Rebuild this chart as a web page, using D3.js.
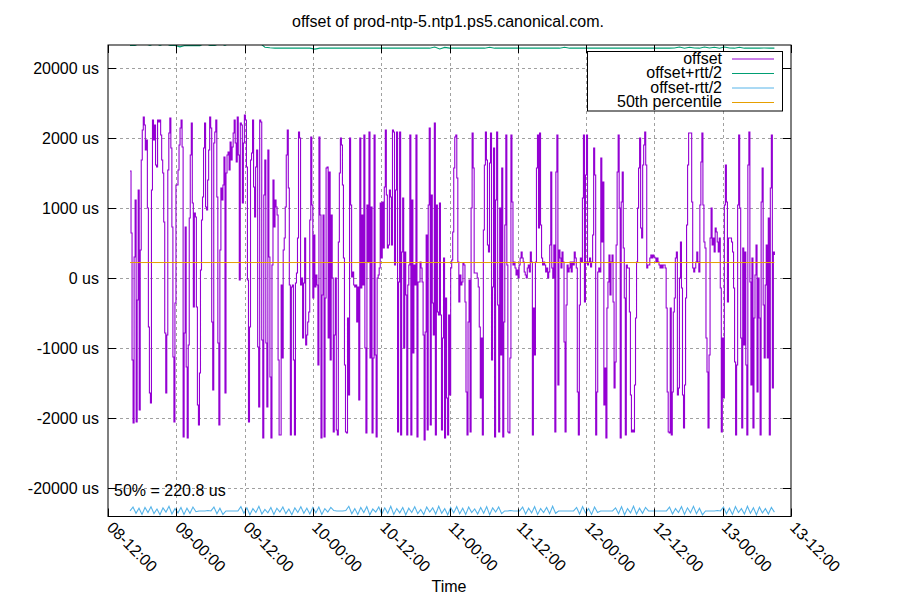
<!DOCTYPE html>
<html><head><meta charset="utf-8">
<script src="https://cdn.jsdelivr.net/npm/d3@7"></script>
<style>body{margin:0;background:#fff}svg{display:block}text{font-family:"Liberation Sans",Arial,sans-serif;fill:#000}</style>
</head><body><svg id="c" width="900" height="600"></svg>
<script>
const title = "offset of prod-ntp-5.ntp1.ps5.canonical.com.";
const xTitle = "Time";
const yTickValues = [-20000, -2000, -1000, 0, 1000, 2000, 20000];
const seriesNames = ["offset", "offset+rtt/2", "offset-rtt/2", "50th percentile"];
const seriesColors = ["#9400d3", "#009e73", "#56b4e9", "#e69f00"];
const percentile50 = 220.8;
const percentileLabel = "50% = 220.8 us";
const axisStart = Date.UTC(2024, 0, 8, 12), axisEnd = Date.UTC(2024, 0, 13, 12);
const dataStart = Date.UTC(2024, 0, 8, 15, 52), dataEnd = Date.UTC(2024, 0, 13, 9, 5);

const offset = [
1529,643,-1171,-3290,300,1114,-3030,-314,1257,-1886,400,1686,
4060,7400,5340,1829,1971,
1000,-700,-1643,-1786,1257,
6630,1971,5340,
1614,1586,6630,6100,
6630,2770,1686,1500,
800,-786,-1643,-814,
1543,3290,7140,1857,729,
-1129,-3030,-357,1329,
1329,1543,1900,4570,6630,
1871,-6890,-786,729,
-1271,-7140,-957,857,
1757,5860,1071,-414,
929,871,-414,-1814,
-3800,-1357,114,829,1157,
1857,5860,1014,971,1400,1829,
7400,4570,-629,-1600,1929,
3540,6630,1157,-929,-3800,
400,1286,1114,1329,1729,
-1643,1500,1757,1800,1543,
1943,1686,1871,3290,6630,1929,
1657,7400,1757,-29,5860,
5340,1071,1929,7910,6630,
1586,-29,-3030,-700,1686,
1786,6630,1300,871,1586,
1829,-986,-1843,6630,6100,-886,
-7140,1186,1686,-929,-1843,
1829,300,-1414,-7140,186,
1400,729,1114,1014,900,
-1171,-6370,-6370,-100,-1143,
400,571,1014,1757,4060,
1286,-100,-6370,-129,
-100,-1171,-6370,-71,
71,571,3540,2000,-100,
0,-857,-71,571,
-957,-814,-629,-486,829,
2260,1043,-286,614,-129,43,
-100,-1243,2260,900,-7140,
-243,900,-6890,-286,1571,
1586,-857,1514,-1171,900,
0,-5600,-814,0,-5090,
-6370,514,1500,2000,1900,
1329,286,-1243,-5600,-5860,
-571,-1671,2000,1043,14,
86,-100,-129,-100,-629,
-129,-1743,2000,-143,900,
-100,2770,-1000,-5860,1043,
229,3540,-1143,1014,-5860,
-1143,2770,-1100,-6890,0,
43,143,1071,286,1086,
429,1300,4060,1186,429,
471,1257,1157,471,4060,
3540,186,1257,3540,-5600,
-57,3540,-6370,371,1143,
-1000,371,-243,-6370,-100,
186,2770,-6370,1114,-1071,
186,-100,2770,-6890,-57,
-57,229,143,-57,-814,
-7660,-771,614,-5090,1043,
4570,-3800,1186,-357,-814,
5860,-6370,1043,-486,-529,
1071,-529,-5090,-857,286,
-7140,-286,-1714,-6370,-529,
-1671,143,257,657,1571,
2260,2770,1429,229,-343,
43,-100,-57,214,186,
-343,-1629,-6370,-629,-29,
-5600,1000,3290,1571,71,
71,71,0,-129,-700,
-1714,-857,-6370,686,1614,
3540,1686,471,371,1643,
3290,-1171,-129,1857,-6890,
1114,3540,-386,-5600,1000,
-1100,1571,-6890,-629,757,
2770,186,-5600,-5860,-1143,
2770,1086,186,229,143,
43,114,0,186,286,
371,286,229,86,43,
0,143,186,86,371,
229,-6370,-429,-1100,229,
1571,2770,714,3290,757,
286,186,229,186,86,
143,0,86,471,1514,
143,0,471,-5600,1514,
2770,-1529,400,286,143,
371,229,-914,-5600,-386,
186,86,143,229,86,
229,186,371,286,143,
-1629,-6370,-386,286,229,
1143,2770,-343,1471,2770,
186,229,286,157,229,
614,1857,1471,-6370,-1629,
86,143,86,1714,514,
1371,-1814,-1286,-7140,-429,
-57,329,-243,229,329,
-343,-1571,-1200,471,1514,
2770,1000,-7140,1086,1514,
429,-286,-6370,186,143,
143,-486,-1671,-5600,-5090,
-5600,-1529,-571,229,1000,
1571,2000,714,571,1614,
1900,3540,1614,143,186,
186,286,329,286,329,
300,286,229,286,229,
186,143,186,143,186,
186,143,-429,-1629,-5600,
-5860,-429,-6370,-1629,-486,
-286,286,371,-1671,-1571,
0,514,-143,-1671,-4570,
-1529,-286,757,1614,3290,
3290,3290,1086,143,86,
143,229,371,229,86,
1043,1657,3290,1043,514,
429,-857,-1343,-4570,-1100,
571,1000,471,571,371,
714,657,514,371,571,
-143,-5600,-857,-1714,1043,
1614,1086,-343,571,571,
571,514,371,-143,-1200,
-6370,-1243,1043,2770,1000,
-857,-4570,429,-957,371,
-1243,-6370,1614,3540,-57,
-1529,286,-4570,-571,43,
471,-1629,0,-571,-6370,
1086,1571,-386,-1143,-100,
471,-1143,857,-6370,1286,
2770,-1571,371,329
];

const offsetPlusRtt = [
25800,25800,26400,26300,25800,26400,25800,26400,25800,25800,
25450,25800,25750,25800,25750,26400,25800,25800,26400,25800,
26500,26600,26400,26500,26600,26500,26400,25350,25200,25100,
25150,25100,25150,25100,25100,25150,25100,24850,25100,
25100,25150,25100,25100,25150,25100,25100,25150,25100,25100,25150,25100,25100,25100,25150,25100,25100,25150,25100,25100,25150,25100,
25400,24900,25300,
25100,25150,25100,25100,25150,25100,25100,25100,
25350,
25100,25100,25150,25100,25100,25150,25100,25100,25100,25150,25100,25100,25150,25100,
25350,
25100,25150,25100,25100,25150,25100,25100,25100,25150,25100,25100,25150,25100,25100,25100,25150,25100,25100,25150,25100,25100,25150,
25400,25100,25350,25150,25100,25400,25150,25350,25100,25400,25150,25100,25350,
25100,25150,25100,25100,25150,25100,25100
];

const offsetMinusRtt = [
-25900,-24900,-26500,-25200,-26800,-25000,-26300,-24800,-26600,-25400,-26900,-25100,-26200,-24700,-26700,-25300,-26400,-25000,-26800,-25200,-26500,-24900,-26100,
-25900,-25900,-25900,-25800,-25900,
-24900,-26600,-25200,-26800,
-25900,-25900,-25900,-25900,-25900,
-24800,-26500,-25100,-26900,-25300,-26300,-24700,-26700,-25500,-26400,-25000,-26800,-25200,-26200,-24900,-26600,-25400,-26900,-25100,-26300,-24800,-26500,-25200,-26700,-25000,-26400,-24900,-26800,-25300,-26200,-25000,
-25800,-25900,-25900,-25900,-25800,
-24700,-26600,-25300,-26800,-25000,-26300,-24800,-26900,-25400,-26200,-24900,-26700,-25100,-26500,-24700,-26800,-25300,-26400,-25000,-26900,-25200,-26300,-24800,-26600,-25500,-26800,-24900,-26200,-25100,-26700,-24700,-26500,-25300,-26900,-25000,-26400,-24800,-26600,-25200,-26800,-24900,-26300,-25400,-26700,-25000,-26500,-24800,-26900,-25100,-26200,-24900,-26600,
-25900,-25900,-25800,-25900,-25900,-25900,
-24900,-26700,-25200,-26400,-24800,-26800,-25300,-26300,-25000,-26600,-24700,-26500,
-25900,-25900,-25900,-25900,-25900,-25900,
-25000,-26700,-24800,-26400,-25300,-26800,-24900,-26300,
-25900,-25900,-25900,-25900,-25900,
-25100,-26600,-24800,-26900,-25300,-26400,-24700,-26700,-25200,-26500,-25000,
-25900,-25900,-25900,-25900,-25900,-25900,-25900,
-24900,-26700,-25300,-26300,-24800,-26800,-25100,-26400,-24700,-26600,-25200,-26900,
-25900,-25900,-25900,-25900,-25800,-25900,
-24900,-26600,-25200,-26800,-24800,-26300,-25300,-26700,-24700,-26500,-25100,-26900,-24900,-26400,-25300,-26700,-25000,-26200
];

// ---- layout ----
const L = 108, R = 791, T = 45, B = 516.5;
const zeroY = 278, gap = 70;
const svg = d3.select("#c");

const x = d3.scaleUtc().domain([axisStart, axisEnd]).range([L, R]);
const y = d3.scaleLinear()
  .domain([-20000, -2000, 2000, 20000])
  .range([zeroY + 3 * gap, zeroY + 2 * gap, zeroY - 2 * gap, zeroY - 3 * gap]);

function withTimes(arr) {
  const step = (dataEnd - dataStart) / (arr.length - 1);
  return arr.map((v, i) => ({ t: new Date(dataStart + i * step), v }));
}

const xTicks = d3.utcHour.every(12).range(new Date(axisStart), new Date(axisEnd + 1));
const fmt = d3.utcFormat("%d-%H:%M");

// grid
const grid = svg.append("g").attr("stroke", "#a0a0a0").attr("stroke-width", 1).attr("stroke-dasharray", "3,3");
yTickValues.forEach(v => {
  grid.append("line").attr("x1", L).attr("x2", R).attr("y1", Math.round(y(v)) + 0.5).attr("y2", Math.round(y(v)) + 0.5);
});
xTicks.forEach(t => {
  const px = x(t);
  if (px > L + 1 && px < R - 1)
    grid.append("line").attr("x1", Math.round(px) + 0.5).attr("x2", Math.round(px) + 0.5).attr("y1", T).attr("y2", B);
});

// clip
svg.append("defs").append("clipPath").attr("id", "clip")
  .append("rect").attr("x", L).attr("y", T).attr("width", R - L).attr("height", B - T);

const lineGen = d3.line().x(d => x(d.t)).y(d => y(d.v));
const stepGen = d3.line().x(d => x(d.t)).y(d => y(d.v)).curve(d3.curveStepAfter);
const plot = svg.append("g").attr("clip-path", "url(#clip)");
plot.append("path").datum(withTimes(offset))
  .attr("fill", "none").attr("stroke", seriesColors[0]).attr("stroke-width", 1.1)
  .attr("d", stepGen);
[offsetPlusRtt, offsetMinusRtt].forEach((arr, i) => {
  plot.append("path").datum(withTimes(arr))
    .attr("fill", "none").attr("stroke", seriesColors[i + 1]).attr("stroke-width", 1.1)
    .attr("d", lineGen);
});
plot.append("path").datum([{ t: new Date(dataStart), v: percentile50 }, { t: new Date(dataEnd), v: percentile50 }])
  .attr("fill", "none").attr("stroke", seriesColors[3]).attr("stroke-width", 1).attr("d", lineGen);

// border
svg.append("rect").attr("x", L).attr("y", T).attr("width", R - L).attr("height", B - T)
  .attr("fill", "none").attr("stroke", "#000").attr("stroke-width", 1);

// ticks
const tk = svg.append("g").attr("stroke", "#000").attr("stroke-width", 1);
yTickValues.forEach(v => {
  const py = Math.round(y(v)) + 0.5;
  tk.append("line").attr("x1", L).attr("x2", L + 8).attr("y1", py).attr("y2", py);
  tk.append("line").attr("x1", R - 8).attr("x2", R).attr("y1", py).attr("y2", py);
  svg.append("text").attr("x", L - 9).attr("y", y(v)).attr("dy", "0.36em")
    .attr("text-anchor", "end").attr("font-size", 16).text(v + " us");
});
xTicks.forEach(t => {
  const px = Math.round(x(t)) + 0.5;
  tk.append("line").attr("x1", px).attr("x2", px).attr("y1", B).attr("y2", B - 8);
  tk.append("line").attr("x1", px).attr("x2", px).attr("y1", T).attr("y2", T + 8);
  svg.append("text").attr("transform", `translate(${x(t) - 2},${B + 12}) rotate(45)`)
    .attr("text-anchor", "start").attr("font-size", 16).text(fmt(t));
});

// titles
svg.append("text").attr("x", 448).attr("y", 27).attr("text-anchor", "middle").attr("font-size", 16).text(title);
svg.append("text").attr("x", 449).attr("y", 592).attr("text-anchor", "middle").attr("font-size", 16).text(xTitle);
svg.append("text").attr("x", 114).attr("y", 496).attr("font-size", 16).text(percentileLabel);

// legend
const lg = svg.append("g");
lg.append("rect").attr("x", 587.5).attr("y", 51.5).attr("width", 195).attr("height", 59.5)
  .attr("fill", "#fff").attr("stroke", "#000").attr("stroke-width", 1);
seriesNames.forEach((n, i) => {
  const by = 63.5 + i * 14.5;
  lg.append("text").attr("x", 722).attr("y", by).attr("text-anchor", "end").attr("font-size", 16).text(n);
  lg.append("line").attr("x1", 732).attr("x2", 774).attr("y1", by - 4.5).attr("y2", by - 4.5)
    .attr("stroke", seriesColors[i]).attr("stroke-width", 1);
});
</script></body></html>
